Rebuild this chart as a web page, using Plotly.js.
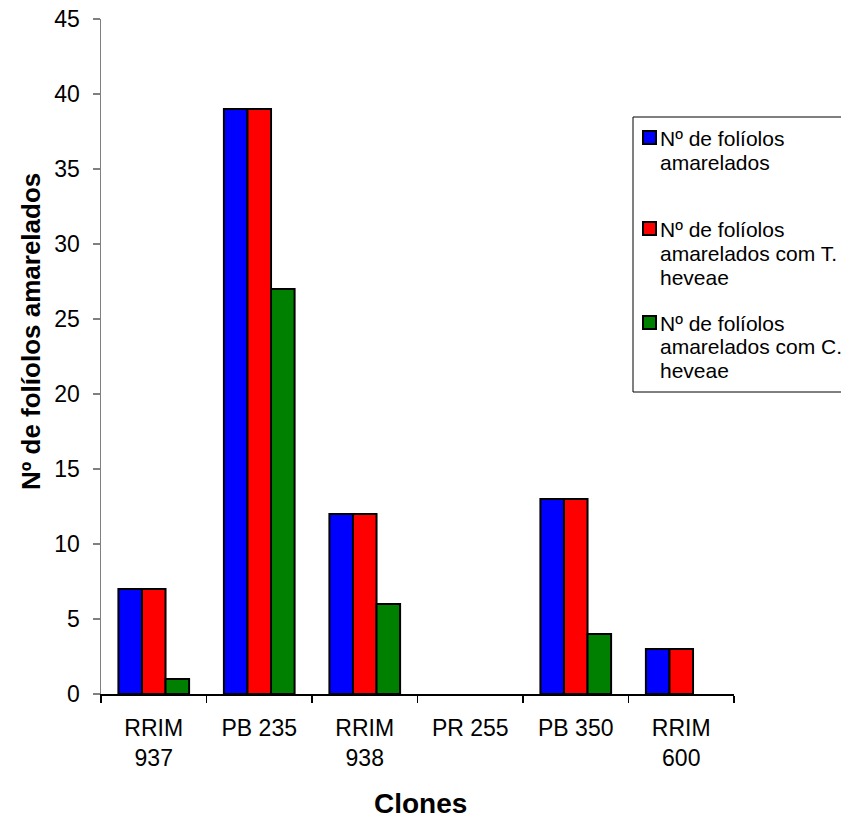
<!DOCTYPE html>
<html>
<head>
<meta charset="utf-8">
<script src="https://cdn.plot.ly/plotly-3.0.1.min.js"></script>
<style>html,body{margin:0;padding:0;background:#fff;}#chart{width:841px;height:821px;}</style>
</head>
<body>
<div id="chart"></div>
<script>
const categories = ["RRIM<br>937", "PB 235", "RRIM<br>938", "PR 255", "PB 350", "RRIM<br>600"];
const seriesNames = [
  "Nº de folíolos amarelados",
  "Nº de folíolos amarelados com T. heveae",
  "Nº de folíolos amarelados com C. heveae"
];
const legendLines = [
  ["Nº de folíolos", "amarelados"],
  ["Nº de folíolos", "amarelados com T.", "heveae"],
  ["Nº de folíolos", "amarelados com C.", "heveae"]
];
const amarelados = [7, 39, 12, 0, 13, 3];
const comT = [7, 39, 12, 0, 13, 3];
const comC = [1, 27, 6, 0, 4, 0];
const yTicks = [0, 5, 10, 15, 20, 25, 30, 35, 40, 45];

const colors = ["#0000FF", "#FF0000", "#008000"];
const seriesValues = [amarelados, comT, comC];
const font = "Arial, 'Liberation Sans', sans-serif";

// plot area in pixels
const W = 841, H = 821;
const L = 101, R = 734, T = 19, B = 694;
const px = x => (x - L) / (R - L);
const py = y => (B - y) / (B - T);

const traces = seriesValues.map((vals, i) => ({
  type: "bar",
  x: categories,
  y: vals,
  name: seriesNames[i],
  showlegend: false,
  marker: {color: colors[i], line: {color: "#000", width: vals.map(v => v === 0 ? 0 : 2)}},
  hoverinfo: "y"
}));

// custom legend (box, swatches, wrapped labels)
const shapes = [{
  type: "rect", xref: "paper", yref: "paper",
  x0: px(633), x1: px(870), y0: py(117), y1: py(392),
  line: {color: "#000", width: 1}, fillcolor: "#fff", layer: "below"
}];
const annotations = [];
const itemFirstBaseline = [145, 236, 330];
const lineStep = 24;
legendLines.forEach((lines, i) => {
  const b0 = itemFirstBaseline[i];
  shapes.push({
    type: "rect", xref: "paper", yref: "paper",
    x0: px(643), x1: px(656), y0: py(b0 - 1), y1: py(b0 - 14),
    line: {color: "#000", width: 2}, fillcolor: colors[i]
  });
  lines.forEach((t, j) => {
    annotations.push({
      xref: "paper", yref: "paper", x: px(658), y: py(b0 + j * lineStep - 7),
      xanchor: "left", yanchor: "middle", showarrow: false, text: t,
      font: {family: font, size: 21, color: "#000"}
    });
  });
});
// axis titles
annotations.push({
  xref: "paper", yref: "paper", x: px(31), y: py(332), xanchor: "center", yanchor: "middle",
  textangle: -90, showarrow: false, text: "<b>Nº de folíolos amarelados</b>",
  font: {family: font, size: 26, color: "#000"}
});
annotations.push({
  xref: "paper", yref: "paper", x: px(420), y: py(803), xanchor: "center", yanchor: "middle",
  showarrow: false, text: "<b>Clones</b>",
  font: {family: font, size: 28, color: "#000"}
});

const layout = {
  width: W, height: H,
  margin: {l: L, r: W - R, t: T, b: H - B, autoexpand: false},
  paper_bgcolor: "#fff", plot_bgcolor: "#fff",
  font: {family: font, color: "#000", size: 23},
  barmode: "group",
  bargap: 0.33,
  bargroupgap: 0,
  showlegend: false,
  shapes: shapes,
  annotations: annotations,
  xaxis: {
    type: "category",
    showline: true, linecolor: "#000", linewidth: 1.5,
    ticks: "outside", tickson: "boundaries", ticklen: 7, tickcolor: "#000", tickwidth: 1.5,
    tickfont: {family: font, size: 23, color: "#000"},
    ticklabelstandoff: 13,
    showgrid: false, zeroline: false
  },
  yaxis: {
    range: [0, 45], tickvals: yTicks, ticktext: yTicks.map(String),
    showline: true, linecolor: "#808080", linewidth: 1.5,
    ticks: "outside", ticklen: 7, tickcolor: "#808080", tickwidth: 1.5,
    tickfont: {family: font, size: 23, color: "#000"},
    ticklabelstandoff: 8,
    showgrid: false, zeroline: false
  }
};

Plotly.newPlot("chart", traces, layout, {displayModeBar: false, staticPlot: true});
</script>
</body>
</html>
